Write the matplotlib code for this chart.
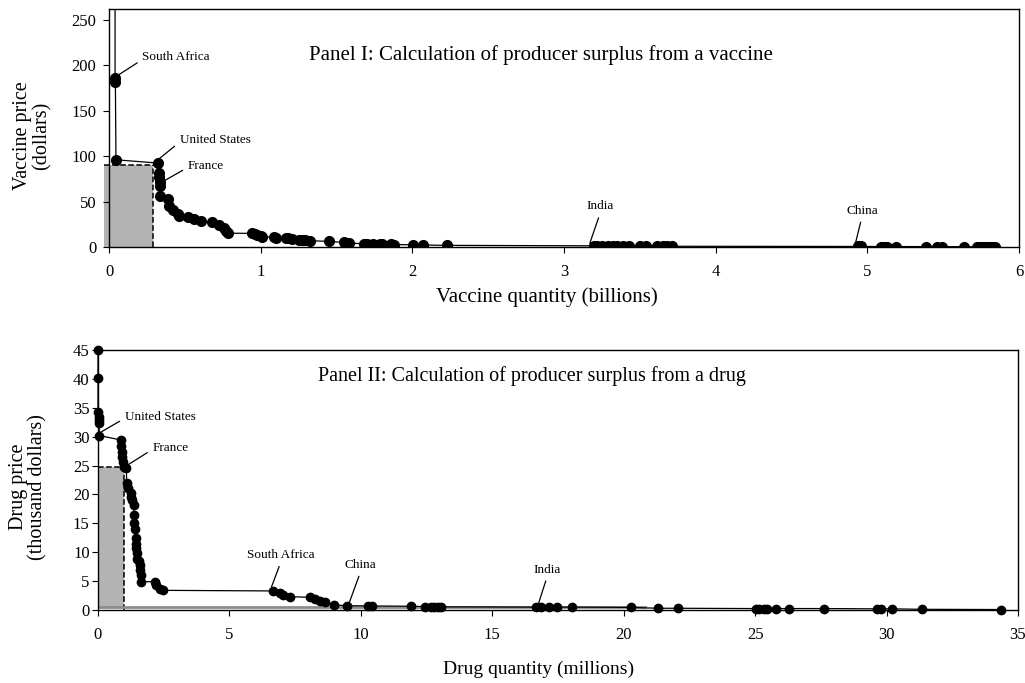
import numpy as np
import matplotlib
matplotlib.use("Agg")
import matplotlib.pyplot as plt
from matplotlib.patches import Rectangle

plt.rcParams['font.family'] = ['Liberation Serif', 'DejaVu Serif']

# Panel I: vaccine, cumulative quantity (billions) vs price (dollars)
vac_qty = [0.040, 0.040, 0.042, 0.046, 0.322, 0.328, 0.332, 0.335, 0.338,
           0.339, 0.392, 0.398, 0.425, 0.453, 0.464, 0.518, 0.562, 0.606,
           0.682, 0.726, 0.759, 0.772, 0.785, 0.945, 0.960, 0.978, 1.000,
           1.010, 1.087, 1.100, 1.164, 1.180, 1.207, 1.251, 1.270, 1.295,
           1.328, 1.448, 1.547, 1.557, 1.580, 1.680, 1.700, 1.740, 1.790,
           1.800, 1.857, 1.880, 2.006, 2.070, 2.230,
           3.20, 3.22, 3.25, 3.29, 3.32, 3.35, 3.39, 3.43, 3.50, 3.54, 3.61,
           3.65, 3.68, 3.71,
           4.94, 4.96, 5.09, 5.11, 5.13, 5.19, 5.39, 5.46, 5.49, 5.64, 5.72,
           5.74, 5.76, 5.78, 5.80, 5.82, 5.84]
vac_price = [400.0, 186.0, 182.0, 96.0, 92.4, 81.4, 77.0, 72.0, 66.7,
             55.7, 52.8, 44.7, 41.0, 36.6, 34.4, 33.0, 30.8, 28.2,
             27.0, 24.5, 20.9, 18.0, 15.2, 15.0, 14.5, 13.5, 12.0,
             11.5, 10.6, 10.4, 10.0, 9.6, 9.1, 8.0, 7.5, 7.3,
             6.9, 6.2, 5.0, 4.6, 4.4, 3.5, 3.4, 3.2, 3.1,
             3.0, 2.9, 2.7, 2.4, 2.2, 1.8,
             1.3, 1.25, 1.2, 1.15, 1.1, 1.05, 1.0, 1.0, 0.95, 0.9, 0.9,
             0.85, 0.8, 0.8,
             0.6, 0.6, 0.55, 0.5, 0.5, 0.5, 0.45, 0.4, 0.4, 0.35, 0.3,
             0.3, 0.3, 0.25, 0.25, 0.2, 0.2]

# Panel II: drug, cumulative quantity (millions) vs price (thousand dollars)
drug_qty = [0.00, 0.00, 0.00, 0.02, 0.03, 0.04, 0.05, 0.89, 0.89, 0.92,
            0.93, 0.96, 1.00, 1.08, 1.09, 1.14, 1.24, 1.27, 1.31, 1.36,
            1.36, 1.38, 1.42, 1.45, 1.46, 1.46, 1.47, 1.50, 1.55, 1.60,
            1.60, 1.62, 1.65, 2.16, 2.22, 2.35, 2.47,
            6.65, 6.92, 7.05, 7.30, 8.07, 8.26, 8.45, 8.64, 8.96, 9.47,
            10.29, 10.42, 11.90, 12.43, 12.65, 12.80, 12.95, 13.06,
            16.66, 16.85, 17.17, 17.45, 18.02, 20.27, 21.29, 22.07,
            25.02, 25.15, 25.34, 25.47, 25.79, 26.27, 27.62, 29.63, 29.79,
            30.21, 31.36, 34.34]
drug_price = [45.0, 40.1, 34.3, 33.4, 32.9, 32.3, 30.2, 29.4, 28.3, 27.4,
              26.5, 25.7, 24.8, 24.5, 21.9, 21.1, 20.2, 19.6, 19.0, 18.2,
              16.4, 15.0, 14.1, 12.4, 11.5, 10.7, 9.8, 8.9, 8.4, 7.8,
              6.9, 6.1, 4.9, 4.9, 4.3, 3.7, 3.4,
              3.3, 3.0, 2.6, 2.3, 2.2, 1.9, 1.6, 1.3, 0.87, 0.75,
              0.7, 0.7, 0.65, 0.6, 0.6, 0.55, 0.55, 0.55,
              0.5, 0.5, 0.5, 0.5, 0.5, 0.45, 0.3, 0.3,
              0.25, 0.25, 0.25, 0.25, 0.25, 0.25, 0.25, 0.2, 0.2,
              0.2, 0.12, 0.08]

# producer surplus boxes: (quantity, price)
vac_box = (0.29, 90.5)
drug_box = (0.98, 24.7)

fig = plt.figure(figsize=(10.25, 6.83), dpi=100)

W, H = 1025.0, 683.0


def make_axes(left, right, top, bottom):
    return fig.add_axes([left / W, 1 - bottom / H, (right - left) / W, (bottom - top) / H])


def style(ax, pad_y):
    for s in ax.spines.values():
        s.set_linewidth(1.0)
        s.set_color('black')
    ax.tick_params(axis='both', direction='out', length=4, width=0.8,
                   labelsize=12, color='black')
    ax.tick_params(axis='x', pad=8)
    ax.tick_params(axis='y', pad=pad_y)


def note(ax, text, xy, xytext, ha, rel):
    ax.annotate(text, xy=xy, xytext=xytext, ha=ha, va='center', fontsize=9.5,
                arrowprops=dict(arrowstyle='-', lw=0.9, color='black',
                                relpos=rel, shrinkA=2, shrinkB=0))


# ---- Panel I ----
ax1 = make_axes(109, 1019, 9, 247)
ax1.add_patch(Rectangle((-0.03, 0), vac_box[0] + 0.03, vac_box[1],
                        facecolor='#b3b3b3', edgecolor='none', clip_on=False, zorder=1))
ax1.plot([-0.03, vac_box[0]], [vac_box[1], vac_box[1]], 'k--', lw=1.1,
         clip_on=False, zorder=2)
ax1.plot([vac_box[0], vac_box[0]], [0, vac_box[1]], 'k--', lw=1.1, zorder=2)
ax1.plot(vac_qty, vac_price, color='black', lw=0.9, marker='o', ms=7,
         zorder=3)
ax1.set_xlim(0, 6)
ax1.set_ylim(0, 262)
ax1.set_xticks(range(0, 7))
ax1.set_yticks(range(0, 251, 50))
style(ax1, 5)
ax1.set_xlabel('Vaccine quantity (billions)', fontsize=15)
ax1.xaxis.set_label_coords(0.481, -0.168)
ax1.text(0.475, 0.807, 'Panel I: Calculation of producer surplus from a vaccine',
         transform=ax1.transAxes, ha='center', va='center', fontsize=15)
note(ax1, 'South Africa', (0.04, 187), (0.22, 209), 'left', (0, 0.3))
note(ax1, 'United States', (0.30, 93), (0.465, 118), 'left', (0, 0.3))
note(ax1, 'France', (0.355, 72), (0.52, 89), 'left', (0, 0.4))
note(ax1, 'India', (3.17, 4), (3.24, 44.7), 'center', (0.5, 0))
note(ax1, 'China', (4.92, 3), (4.965, 40), 'center', (0.5, 0))

fig.text(32 / W, 1 - 136 / H, 'Vaccine price\n(dollars)', rotation=90,
         ha='center', va='center', multialignment='center', fontsize=14.5,
         linespacing=1.05)

# ---- Panel II ----
ax2 = make_axes(98, 1018, 350, 610)
ax2.add_patch(Rectangle((0, 0.5), drug_box[0], drug_box[1] - 0.5,
                        facecolor='#b3b3b3', edgecolor='none', zorder=1))
ax2.plot([0, drug_box[0]], [drug_box[1], drug_box[1]], 'k--', lw=1.1, zorder=2)
ax2.plot([drug_box[0], drug_box[0]], [0, drug_box[1]], 'k--', lw=1.1, zorder=2)
ax2.plot([0, 20.8], [0.45, 0.45], color='#8c8c8c', lw=2.0, zorder=2)
ax2.plot(drug_qty, drug_price, color='black', lw=0.9, marker='o', ms=6,
         zorder=3, clip_on=False)
ax2.set_xlim(0, 35)
ax2.set_ylim(0, 45)
ax2.set_xticks(range(0, 36, 5))
ax2.set_yticks(range(0, 46, 5))
style(ax2, 2)
ax2.set_xlabel('Drug quantity (millions)', fontsize=14)
ax2.xaxis.set_label_coords(0.479, -0.196)
ax2.text(0.472, 0.9, 'Panel II: Calculation of producer surplus from a drug',
         transform=ax2.transAxes, ha='center', va='center', fontsize=14.5)
note(ax2, 'United States', (0.04, 30.6), (1.02, 33.4), 'left', (0, 0.4))
note(ax2, 'France', (1.06, 24.9), (2.07, 28.0), 'left', (0, 0.4))
note(ax2, 'South Africa', (6.6, 4.0), (6.97, 9.5), 'center', (0.5, 0))
note(ax2, 'China', (9.53, 0.9), (10.0, 7.8), 'center', (0.5, 0))
note(ax2, 'India', (16.75, 1.0), (17.1, 7.0), 'center', (0.5, 0))

fig.text(28 / W, 1 - 487 / H, 'Drug price\n(thousand dollars)', rotation=90,
         ha='center', va='center', multialignment='center', fontsize=14.5,
         linespacing=1.05)

fig.savefig('out.png', dpi=100)
